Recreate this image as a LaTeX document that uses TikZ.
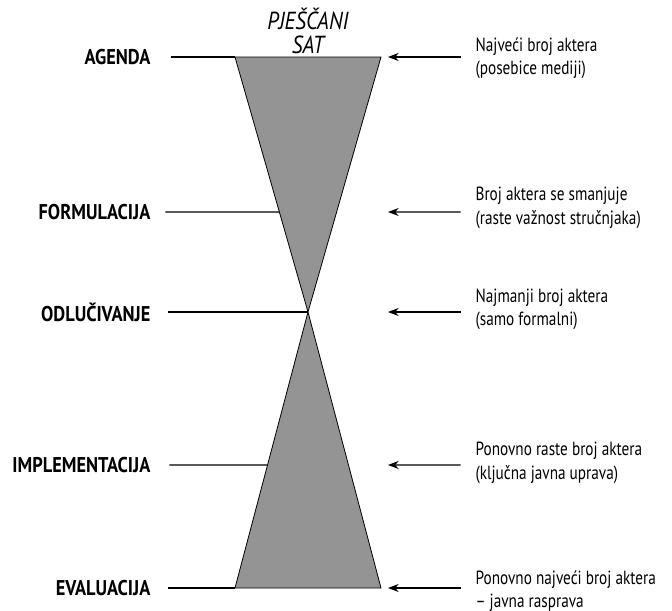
\documentclass[tikz,border=0pt]{standalone}
\usepackage{fontspec}
\setmainfont[FakeStretch=0.86]{PT Sans}
\newfontfamily\notefont[FakeStretch=0.8]{PT Sans}
\usetikzlibrary{arrows.meta,calc}
\begin{document}
\begin{tikzpicture}[x=0.75pt, y=-0.75pt, >={Stealth[length=8pt,width=6pt]}, font=\notefont\fontsize{14.3}{17.5}\selectfont]
      \tikzset{phase/.style={anchor=east, font=\fontsize{16}{18}\selectfont\bfseries, inner sep=1pt},
        note/.style={anchor=west, align=left, inner sep=1pt},
        glass/.style={draw, fill=black!42, line width=0.6pt}}
      \useasboundingbox (0,0) rectangle (672,611);
      % hourglass
      \coordinate (tl) at (235,57);
      \coordinate (tr) at (381,57);
      \coordinate (mid) at (308,312);
      \coordinate (bl) at (235,588);
      \coordinate (br) at (381,588);
      \draw[glass] (tl) -- (tr) -- (mid) -- cycle;
      \draw[glass] (bl) -- (br) -- (mid) -- cycle;
      \node[font=\fontsize{18.5}{18}\selectfont\itshape, align=center, inner sep=0pt] (title) at (308,31) {PJEŠČANI\\SAT};
      % phases
      \node[phase] (ag) at (152,57) {AGENDA};
      \node[phase] (fo) at (152,212) {FORMULACIJA};
      \node[phase] (od) at (152,312) {ODLUČIVANJE};
      \node[phase] (im) at (152,465) {IMPLEMENTACIJA};
      \node[phase] (ev) at (152,588) {EVALUACIJA};
      \coordinate (fe) at ($(tl)!0.608!(mid)$);
      \coordinate (ie) at ($(bl)!0.446!(mid)$);
      \draw[line width=0.9pt] ([xshift=14pt]ag.east) -- (tl);
      \draw[line width=0.9pt] ([xshift=10pt]fo.east) -- (fe);
      \draw[line width=0.9pt] ([xshift=12pt]od.east) -- (mid);
      \draw[line width=0.9pt] ([xshift=13pt]im.east) -- (ie);
      \draw[line width=0.9pt] ([xshift=12pt]ev.east) -- (bl);
      % notes
      \node[note] (n1) at (474,58) {Najveći broj aktera\\(posebice mediji)};
      \node[note] (n2) at (474,208) {Broj aktera se smanjuje\\(raste važnost stručnjaka)};
      \node[note] (n3) at (474,309) {Najmanji broj aktera\\(samo formalni)};
      \node[note] (n4) at (474,463) {Ponovno raste broj aktera\\(ključna javna uprava)};
      \node[note] (n5) at (474,591) {Ponovno najveći broj aktera\\– javna rasprava};
      \draw[->, line width=0.9pt] ([xshift=-10pt]n1.west |- tr) -- (388,57);
      \draw[->, line width=0.9pt] ([xshift=-10pt]n2.west |- fe) -- (388,212);
      \draw[->, line width=0.9pt] ([xshift=-10pt]n3.west |- mid) -- (388,312);
      \draw[->, line width=0.9pt] ([xshift=-10pt]n4.west |- ie) -- (388,465);
      \draw[->, line width=0.9pt] ([xshift=-10pt]n5.west |- br) -- (388,588);
    \end{tikzpicture}
\end{document}
